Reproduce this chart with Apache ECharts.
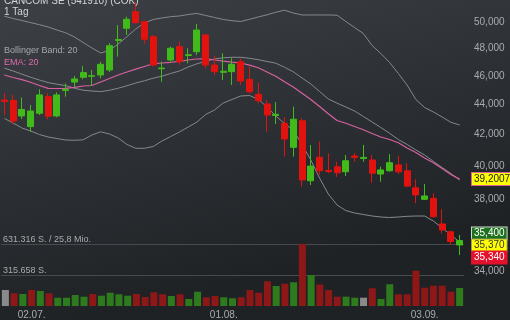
<!DOCTYPE html>
<html><head><meta charset="utf-8">
<script src="https://cdn.jsdelivr.net/npm/echarts@6/dist/echarts.min.js"></script>
<style>html,body{margin:0;padding:0;background:#2b2f33}#c{width:510px;height:320px}</style>
</head><body><div id="c"></div>
<script>
const dates = ['27.06.','28.06.','01.07.','02.07.','03.07.','04.07.','05.07.','08.07.','09.07.','10.07.',
'11.07.','12.07.','15.07.','16.07.','17.07.','18.07.','19.07.','22.07.','23.07.','24.07.',
'25.07.','26.07.','29.07.','30.07.','31.07.','01.08.','02.08.','05.08.','06.08.','07.08.',
'08.08.','09.08.','12.08.','13.08.','14.08.','15.08.','16.08.','19.08.','20.08.','21.08.',
'22.08.','23.08.','26.08.','27.08.','28.08.','29.08.','30.08.','02.09.','03.09.','04.09.',
'05.09.','06.09.','09.09.'];
const shownDates = ['02.07.','01.08.','03.09.'];
const opens = [44310,44280,43230,42520,43410,44540,43230,44970,45560,45900,
45970,46060,46420,48590,49520,50800,50020,48880,46510,47140,
48130,47470,47750,49010,46780,46250,46300,47020,45750,44700,
44040,43260,42740,41180,42910,39100,40550,39730,39960,39650,
40630,40470,40380,39510,39710,40070,39710,38680,37990,38050,
36570,36130,35400];
const closes = [44210,42890,43660,43560,44660,43210,44660,45040,45780,46230,
46010,46830,48200,48660,50210,49950,48680,46780,46560,48010,
47020,47530,49380,46780,46300,46330,46830,45630,44880,44260,
43290,43340,41710,43010,39150,40000,39710,39660,39590,40330,
40540,40540,39560,39760,40210,39650,38780,38250,38190,36980,
36230,35590,35640];
const lows = [43290,42690,43030,42190,43290,43000,43140,44540,45190,45750,
45280,45830,46270,47390,49010,49900,48330,46660,45580,47020,
46780,46900,47510,46540,46060,45700,45350,45350,44770,44080,
42190,42690,40590,40590,38740,38840,39450,39570,39330,39390,
40270,40270,38980,39040,39650,39510,38700,37760,37950,36940,
36040,35400,34850];
const highs = [44790,44660,44480,43970,45050,44790,44830,45470,45990,46710,
46420,47020,48380,49770,50410,51580,50100,49010,47020,48130,
48500,48010,49850,49040,47440,47640,47270,47270,46660,45510,
44310,44170,43140,43850,43070,41330,41540,40800,40270,40690,
40800,41330,40690,39960,40740,40630,40170,39190,38900,38350,
37410,36200,35950];
const volumes = [162900,129300,122200,162900,152700,129300,84500,84500,112000,94700,
122200,104900,135400,119100,104900,122200,91600,139500,119100,101800,
119100,71300,145600,88600,101800,88600,78400,88600,162900,135400,
251500,203600,227100,241300,631316,315700,218900,162900,94700,94700,
84500,84500,180200,71300,221000,119100,119100,359400,186300,206700,
206700,145600,183300];
const bbUpper = [50445,50272,50116,49955,49793,49615,49384,49172,48853,48439,
48028,47657,47841,48327,48876,49461,49924,50194,50312,50413,
50468,50586,50664,50507,50351,50194,50101,50039,50210,50390,
50562,50758,50922,50703,50547,50547,50547,50547,50531,50039,
49578,49119,48215,47620,46961,46168,45353,44346,43800,43495,
43160,42806,42628];
const bbMiddle = [46548,46347,46118,45897,45704,45521,45409,45310,45127,44987,
44932,44890,44980,45127,45296,45493,45648,45833,45975,46168,
46347,46635,46867,47048,47216,47304,47341,47341,47267,47164,
47033,46910,46613,46289,45847,45423,44897,44380,44092,43834,
43562,43193,42826,42463,42083,41680,41359,41007,40692,40296,
39911,39542,39145];
const bbLower = [43059,42760,42430,42233,42005,41842,41745,41647,41628,41660,
41973,42181,42038,41777,41359,41118,41118,41231,41583,41875,
42168,42496,42826,43327,43629,44106,44346,44586,44621,44358,
43834,43226,42727,42278,41359,40377,39267,38306,37660,37339,
37196,37109,37023,36966,36937,36966,37006,37023,37023,36737,
36341,35950,35561];
const ema20 = [46061,45882,45733,45542,45317,45120,45106,45120,45191,45282,
45317,45563,45811,46061,46275,46476,46671,46867,46925,46976,
47048,47142,47216,47238,47142,47055,46983,46925,46766,46577,
46275,45968,45584,45212,44773,44345,43867,43374,42925,42740,
42529,42311,42070,41843,41680,41474,41135,40850,40503,40209,
39849,39481,39201];
const priceTicks = [34000,38000,40000,42000,44000,46000,48000,50000,52000];
const volumeMax = 631316;
const volumeStep = 315658;
const emaLast = 39200.7;
const quoteAsk = 35400, quoteLast = 35370, quoteBid = 35340;

const fmt = v => String(Math.round(v)).replace(/\B(?=(\d{3})+(?!\d))/g, ',');
const candles = dates.map((d,i) => [opens[i], closes[i], lows[i], highs[i]]);
const volColors = closes.map((c,i) => i === 0 || c === closes[i-1] ? '#8a8a8a' : (c > closes[i-1] ? '#2e7b1d' : '#8e1717'));
const volData = volumes.map((v,i) => ({value: v, itemStyle: {color: volColors[i]}}));

const FONT = 'Liberation Sans, Arial, sans-serif';
const GRID_L = -1, GRID_R = 46;
const chart = echarts.init(document.getElementById('c'), null, {renderer: 'canvas'});
const boxLabel = (txt, bg, fg, border, dy) => ({
  show: true, position: 'end', distance: 8, formatter: txt, offset: [0, dy],
  backgroundColor: bg, color: fg, borderColor: border, borderWidth: 1,
  padding: [1, 2, 0, 2], fontSize: 10, fontFamily: FONT, lineHeight: 11
});
chart.setOption({
  animation: false,
  backgroundColor: {type: 'linear', x: 0, y: 0, x2: 0.15, y2: 1, colorStops: [
    {offset: 0, color: '#3d4145'}, {offset: 0.55, color: '#2c3034'}, {offset: 1, color: '#1f2225'}]},
  title: [
    {text: 'CANCOM SE (541910) (COK)', left: 4, top: -4, padding: 0, textStyle: {color: '#d2d4d6', fontSize: 10, fontWeight: 'normal', fontFamily: FONT}},
    {text: '1 Tag', left: 4, top: 7, padding: 0, textStyle: {color: '#d2d4d6', fontSize: 10, fontWeight: 'normal', fontFamily: FONT}},
    {text: 'Bollinger Band: 20', left: 4, top: 46, padding: 0, textStyle: {color: '#a4a7aa', fontSize: 9, fontWeight: 'normal', fontFamily: FONT}},
    {text: 'EMA: 20', left: 4, top: 58, padding: 0, textStyle: {color: '#e06aae', fontSize: 9, fontWeight: 'normal', fontFamily: FONT}}
  ],
  grid: [
    {left: GRID_L, right: GRID_R, top: 0, bottom: 0},
    {left: GRID_L, right: GRID_R, top: 244, bottom: 14}
  ],
  xAxis: [
    {type: 'category', gridIndex: 0, data: dates, boundaryGap: true, show: false},
    {type: 'category', gridIndex: 1, data: dates, boundaryGap: true,
     axisLine: {show: false}, axisTick: {show: false}, splitLine: {show: false},
     axisLabel: {interval: (i, v) => shownDates.includes(v), color: '#a8abae', fontSize: 10, fontFamily: FONT, margin: 4}}
  ],
  yAxis: [
    {type: 'log', gridIndex: 0, position: 'right', min: 31515, max: 51733,
     axisLine: {show: false}, axisTick: {show: false}, splitLine: {show: false},
     axisLabel: {customValues: priceTicks, formatter: v => fmt(v), color: '#a8abae', fontSize: 10, fontFamily: FONT, margin: 10}},
    {type: 'value', gridIndex: 1, min: 0, max: volumeMax, interval: volumeStep,
     axisLine: {show: false}, axisTick: {show: false},
     splitLine: {show: true, lineStyle: {color: ['rgba(0,0,0,0)', '#474b4f', '#474b4f'], width: 1}},
     axisLabel: {inside: true, margin: 2, verticalAlign: 'bottom', color: '#a8abae', fontSize: 9, fontFamily: FONT,
       formatter: v => v === volumeMax ? '631.316 S. / 25,8 Mio.' : (v === volumeStep ? '315.658 S.' : '')}}
  ],
  series: [
    {type: 'bar', name: 'Volumen', xAxisIndex: 1, yAxisIndex: 1, data: volData, barWidth: 7, z: 1},
    {type: 'line', name: 'BB oben', data: bbUpper, symbol: 'none', lineStyle: {color: '#85898d', width: 1}, z: 2},
    {type: 'line', name: 'BB mitte', data: bbMiddle, symbol: 'none', lineStyle: {color: '#85898d', width: 1}, z: 2},
    {type: 'line', name: 'BB unten', data: bbLower, symbol: 'none', lineStyle: {color: '#85898d', width: 1}, z: 2},
    {type: 'line', name: 'EMA 20', data: ema20, symbol: 'none', lineStyle: {color: '#d8609f', width: 1.2}, z: 3,
     markLine: {silent: true, symbol: 'none', lineStyle: {color: 'rgba(0,0,0,0)'},
       data: [{yAxis: emaLast, label: boxLabel('39,2007', '#ffff00', '#222', '#d8609f', 0)}]}},
    {type: 'candlestick', name: 'Kurs', data: candles, barWidth: 6.5, z: 4,
     itemStyle: {color: '#40bb1a', color0: '#e2120f', borderColor: '#40bb1a', borderColor0: '#e2120f', borderWidth: 1},
     markLine: {silent: true, symbol: 'none', lineStyle: {color: 'rgba(0,0,0,0)'},
       data: [
         {yAxis: quoteAsk, label: boxLabel('35,400', '#1d701d', '#ffffff', '#cfd8cf', -11.5)},
         {yAxis: quoteLast, label: boxLabel('35,370', '#ffff00', '#333333', '#9a9a60', 0)},
         {yAxis: quoteBid, label: boxLabel('35,340', '#e3122c', '#ffffff', '#e3122c', 11.5)}
       ]}}
  ]
});
</script></body></html>
